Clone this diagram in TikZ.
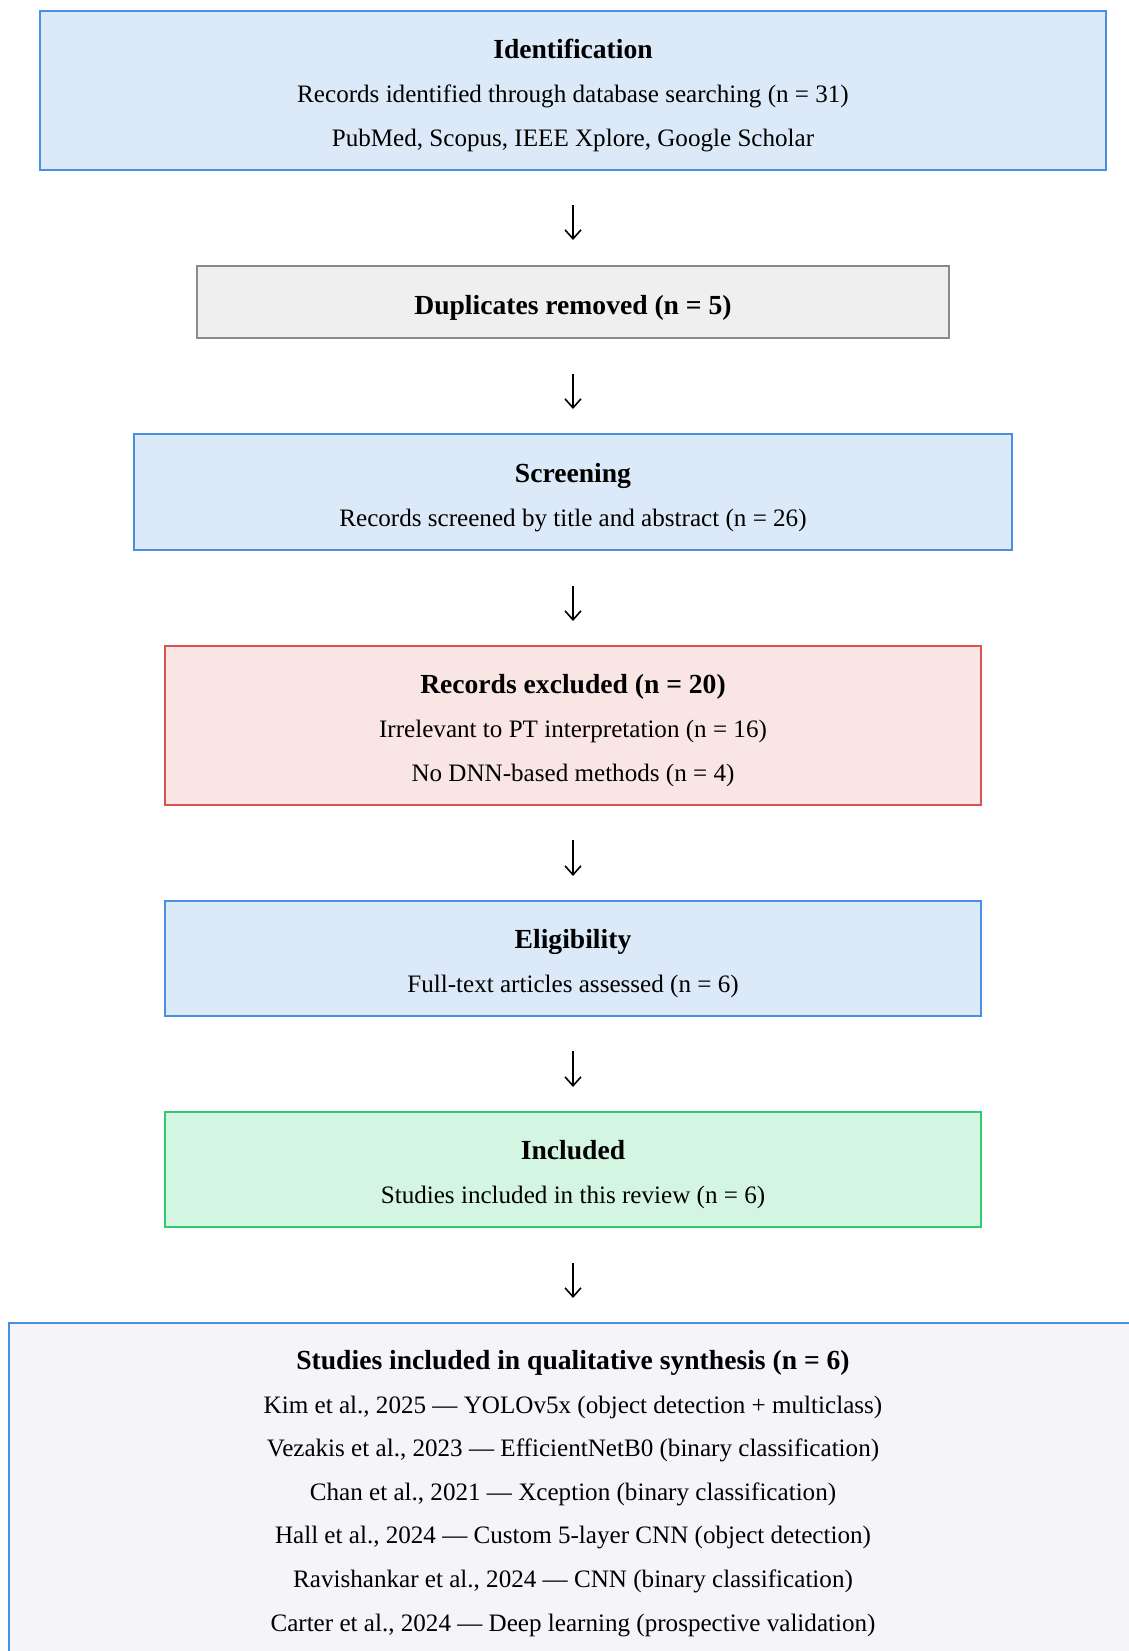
\documentclass[tikz,border=0pt]{standalone}
\usepackage{fontspec}
\setmainfont{Liberation Serif}
\usetikzlibrary{arrows.meta}
\definecolor{stageblue}{HTML}{4A90E2}
\definecolor{stagebluefill}{HTML}{DCE9F8}
\definecolor{dupgray}{HTML}{8A8A8A}
\definecolor{dupfill}{HTML}{EFEFEF}
\definecolor{exclred}{HTML}{D9534F}
\definecolor{exclfill}{HTML}{FAE5E5}
\definecolor{inclgreen}{HTML}{2ECC71}
\definecolor{inclfill}{HTML}{D5F5E3}
\definecolor{synthfill}{HTML}{F4F4F9}
\newcommand{\stagehead}[1]{{\rule{0pt}{15pt}\fontsize{13.8}{22}\selectfont\bfseries #1}}
\begin{document}
\begin{tikzpicture}[x=1pt,y=1pt,
  stage/.style={draw=stageblue, fill=stagebluefill, line width=1pt, align=center,
    inner sep=0pt, font=\fontsize{12.55}{22}\selectfont},
  flowarrow/.style={-{Straight Barb[length=4.5pt,width=8pt]}, line width=0.8pt}]
\useasboundingbox (0,0) rectangle (564.5,-825.5);
% Stages
\node[stage, minimum width=533pt, minimum height=79.5pt] (ident) at (286.5,-45.3)
  {\stagehead{Identification}\\Records identified through database searching (n = 31)\\PubMed, Scopus, IEEE Xplore, Google Scholar};
\node[stage, draw=dupgray, fill=dupfill, minimum width=376pt, minimum height=36pt] (dup) at (286.5,-151)
  {\stagehead{Duplicates removed (n = 5)}};
\node[stage, minimum width=439pt, minimum height=58pt] (screen) at (286.5,-246)
  {\stagehead{Screening}\\Records screened by title and abstract (n = 26)};
\node[stage, draw=exclred, fill=exclfill, minimum width=408pt, minimum height=79.5pt] (excl) at (286.5,-362.75)
  {\stagehead{Records excluded (n = 20)}\\Irrelevant to PT interpretation (n = 16)\\No DNN-based methods (n = 4)};
\node[stage, minimum width=408pt, minimum height=57.5pt] (elig) at (286.5,-479.25)
  {\stagehead{Eligibility}\\Full-text articles assessed (n = 6)};
\node[stage, draw=inclgreen, fill=inclfill, minimum width=408pt, minimum height=57.5pt] (incl) at (286.5,-584.75)
  {\stagehead{Included}\\Studies included in this review (n = 6)};
\node[stage, fill=synthfill, font=\fontsize{12.55}{21.8}\selectfont, minimum width=564.5pt, minimum height=165pt] (synth) at (286.5,-744)
  {\stagehead{Studies included in qualitative synthesis (n = 6)}\\
   Kim et al., 2025 --- YOLOv5x (object detection + multiclass)\\
   Vezakis et al., 2023 --- EfficientNetB0 (binary classification)\\
   Chan et al., 2021 --- Xception (binary classification)\\
   Hall et al., 2024 --- Custom 5-layer CNN (object detection)\\
   Ravishankar et al., 2024 --- CNN (binary classification)\\
   Carter et al., 2024 --- Deep learning (prospective validation)};
% Arrows
\draw[flowarrow] ([yshift=-17pt]ident.south) -- ([yshift=12.5pt]dup.north);
\draw[flowarrow] ([yshift=-17.5pt]dup.south) -- ([yshift=12pt]screen.north);
\draw[flowarrow] ([yshift=-17.5pt]screen.south) -- ([yshift=12pt]excl.north);
\draw[flowarrow] ([yshift=-17pt]excl.south) -- ([yshift=12pt]elig.north);
\draw[flowarrow] ([yshift=-17pt]elig.south) -- ([yshift=12pt]incl.north);
\draw[flowarrow] ([yshift=-17.5pt]incl.south) -- ([yshift=12pt]synth.north);
\end{tikzpicture}
\end{document}
